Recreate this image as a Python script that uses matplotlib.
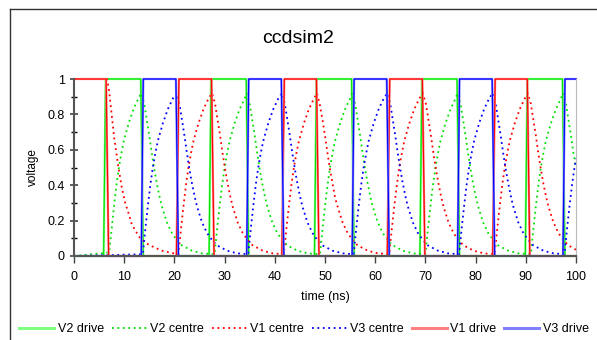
import matplotlib
matplotlib.use("Agg")
import matplotlib.pyplot as plt
from matplotlib.lines import Line2D

plt.rcParams['font.family'] = ['Liberation Sans', 'DejaVu Sans']

# drive clocks (trapezoids), time in ns
v1_drive_t = [0, 6.4, 6.9, 20.4, 20.9, 27.4, 27.9, 41.4, 41.9, 48.3, 48.8,
              62.4, 62.9, 69.4, 69.9, 83.4, 83.9, 90.3, 90.8, 100]
v1_drive_v = [1, 1, 0, 0, 1, 1, 0, 0, 1, 1, 0, 0, 1, 1, 0, 0, 1, 1, 0, 0]

v2_drive_t = [0, 5.9, 6.3, 13.3, 13.8, 26.9, 27.3, 34.3, 34.8, 47.9, 48.3,
              55.3, 55.8, 68.9, 69.3, 76.3, 76.8, 89.9, 90.3, 97.3, 97.8, 100]
v2_drive_v = [0, 0, 1, 1, 0, 0, 1, 1, 0, 0, 1, 1, 0, 0, 1, 1, 0, 0, 1, 1, 0, 0]

v3_drive_t = [0, 13.4, 13.8, 20.3, 20.8, 34.4, 34.8, 41.3, 41.8, 55.4, 55.8,
              62.3, 62.8, 76.4, 76.8, 83.3, 83.8, 97.4, 97.8, 100]
v3_drive_v = [0, 0, 1, 1, 0, 0, 1, 1, 0, 0, 1, 1, 0, 0, 1, 1, 0, 0, 1, 1]

# potential at the centre of each phase
v1_centre_t = [0, 6.6, 7.0, 7.5, 8.0, 8.8, 9.5, 10.2, 11.0, 11.5, 12.3, 13.2, 14.5, 15.9, 17.5, 19.0, 20.8,
               21.3, 21.8, 22.3, 22.8, 23.3, 23.8, 24.8, 25.8, 26.8, 27.5,
               28.1, 28.6, 29.1, 29.6, 30.1, 30.6, 31.1, 31.6, 32.6, 33.6, 34.6, 35.6, 37.6, 39.6, 41.8,
               42.3, 42.8, 43.3, 43.8, 44.3, 44.8, 45.8, 46.8, 47.8, 48.4,
               49.0, 49.5, 50.0, 50.5, 51.0, 51.5, 52.0, 52.5, 53.5, 54.5, 55.5, 56.5, 58.5, 60.5, 62.8,
               63.3, 63.8, 64.3, 64.8, 65.3, 65.8, 66.8, 67.8, 68.8, 69.5,
               70.1, 70.6, 71.1, 71.6, 72.1, 72.6, 73.1, 73.6, 74.6, 75.6, 76.6, 77.6, 79.6, 81.6, 83.8,
               84.3, 84.8, 85.3, 85.8, 86.3, 86.8, 87.8, 88.8, 89.8, 90.4,
               91.0, 91.5, 92.0, 92.5, 93.0, 93.5, 94.0, 94.5, 95.5, 96.5, 97.5, 98.5, 100]
v1_centre_v = [1.0, 1.0, 0.93, 0.80, 0.67, 0.51, 0.39, 0.30, 0.23, 0.18, 0.14, 0.10, 0.07, 0.05, 0.03, 0.02, 0.01,
               0.15, 0.28, 0.40, 0.50, 0.58, 0.65, 0.75, 0.83, 0.89, 0.92,
               0.86, 0.77, 0.68, 0.58, 0.49, 0.41, 0.34, 0.28, 0.19, 0.13, 0.09, 0.06, 0.03, 0.015, 0.01,
               0.15, 0.28, 0.40, 0.50, 0.58, 0.65, 0.75, 0.83, 0.89, 0.92,
               0.85, 0.77, 0.68, 0.58, 0.49, 0.41, 0.33, 0.28, 0.19, 0.13, 0.09, 0.06, 0.03, 0.015, 0.01,
               0.15, 0.28, 0.40, 0.50, 0.58, 0.65, 0.75, 0.83, 0.89, 0.92,
               0.86, 0.77, 0.68, 0.58, 0.49, 0.41, 0.34, 0.28, 0.19, 0.13, 0.09, 0.06, 0.03, 0.015, 0.01,
               0.15, 0.28, 0.40, 0.50, 0.58, 0.65, 0.75, 0.83, 0.89, 0.92,
               0.86, 0.77, 0.68, 0.58, 0.49, 0.41, 0.34, 0.28, 0.19, 0.13, 0.09, 0.06, 0.035]

v2_centre_t = [0, 7.0, 7.5, 8.0, 8.5, 9.0, 9.5, 10.0, 11.0, 12.0, 13.0, 13.4,
               14.0, 14.5, 15.0, 15.5, 16.0, 16.5, 17.0, 17.5, 18.5, 19.5, 20.5, 21.5, 23.5, 25.5, 28.0,
               28.5, 29.0, 29.5, 30.0, 30.5, 31.0, 32.0, 33.0, 34.0, 34.4,
               35.0, 35.5, 36.0, 36.5, 37.0, 37.5, 38.0, 38.5, 39.5, 40.5, 41.5, 42.5, 44.5, 46.5, 49.0,
               49.5, 50.0, 50.5, 51.0, 51.5, 52.0, 53.0, 54.0, 55.0, 55.4,
               56.0, 56.5, 57.0, 57.5, 58.0, 58.5, 59.0, 59.5, 60.5, 61.5, 62.5, 63.5, 65.5, 67.5, 70.0,
               70.5, 71.0, 71.5, 72.0, 72.5, 73.0, 74.0, 75.0, 76.0, 76.4,
               77.0, 77.5, 78.0, 78.5, 79.0, 79.5, 80.0, 80.5, 81.5, 82.5, 83.5, 84.5, 86.5, 88.5, 91.0,
               91.5, 92.0, 92.5, 93.0, 93.5, 94.0, 95.0, 96.0, 97.0, 97.4,
               98.0, 98.5, 99.0, 99.5, 100]
v2_centre_v = [0.0, 0.02, 0.15, 0.29, 0.41, 0.51, 0.59, 0.66, 0.76, 0.84, 0.90, 0.92,
               0.86, 0.77, 0.68, 0.58, 0.49, 0.41, 0.34, 0.28, 0.19, 0.13, 0.09, 0.06, 0.03, 0.015, 0.01,
               0.15, 0.28, 0.40, 0.50, 0.58, 0.65, 0.75, 0.83, 0.89, 0.92,
               0.86, 0.77, 0.68, 0.58, 0.49, 0.41, 0.34, 0.28, 0.19, 0.13, 0.09, 0.06, 0.03, 0.015, 0.01,
               0.15, 0.28, 0.40, 0.50, 0.58, 0.65, 0.75, 0.83, 0.89, 0.92,
               0.86, 0.77, 0.68, 0.58, 0.49, 0.41, 0.34, 0.28, 0.19, 0.13, 0.09, 0.06, 0.03, 0.015, 0.01,
               0.15, 0.28, 0.40, 0.50, 0.58, 0.65, 0.75, 0.83, 0.89, 0.92,
               0.86, 0.77, 0.68, 0.58, 0.49, 0.41, 0.34, 0.28, 0.19, 0.13, 0.09, 0.06, 0.03, 0.015, 0.01,
               0.15, 0.28, 0.40, 0.50, 0.58, 0.65, 0.75, 0.83, 0.89, 0.92,
               0.86, 0.77, 0.68, 0.58, 0.50]

v3_centre_t = [0, 13.7, 14.2, 14.7, 15.2, 15.7, 16.2, 16.7, 17.7, 18.7, 19.7, 20.4,
               21.0, 21.5, 22.0, 22.5, 23.0, 23.5, 24.0, 24.5, 25.5, 26.5, 27.5, 28.5, 30.5, 32.5, 34.7,
               35.2, 35.7, 36.2, 36.7, 37.2, 37.7, 38.7, 39.7, 40.7, 41.4,
               42.0, 42.5, 43.0, 43.5, 44.0, 44.5, 45.0, 45.5, 46.5, 47.5, 48.5, 49.5, 51.5, 53.5, 55.7,
               56.2, 56.7, 57.2, 57.7, 58.2, 58.7, 59.7, 60.7, 61.7, 62.4,
               63.0, 63.5, 64.0, 64.5, 65.0, 65.5, 66.0, 66.5, 67.5, 68.5, 69.5, 70.5, 72.5, 74.5, 76.7,
               77.2, 77.7, 78.2, 78.7, 79.2, 79.7, 80.7, 81.7, 82.7, 83.4,
               84.0, 84.5, 85.0, 85.5, 86.0, 86.5, 87.0, 87.5, 88.5, 89.5, 90.5, 91.5, 93.5, 95.5, 97.7,
               98.2, 98.7, 99.2, 99.7, 100]
v3_centre_v = [0.0, 0.01, 0.15, 0.28, 0.40, 0.50, 0.58, 0.65, 0.75, 0.83, 0.89, 0.92,
               0.86, 0.77, 0.68, 0.58, 0.49, 0.41, 0.34, 0.28, 0.19, 0.13, 0.09, 0.06, 0.03, 0.015, 0.01,
               0.15, 0.28, 0.40, 0.50, 0.58, 0.65, 0.75, 0.83, 0.89, 0.92,
               0.86, 0.77, 0.68, 0.58, 0.49, 0.41, 0.34, 0.28, 0.19, 0.13, 0.09, 0.06, 0.03, 0.015, 0.01,
               0.15, 0.28, 0.40, 0.50, 0.58, 0.65, 0.75, 0.83, 0.89, 0.92,
               0.86, 0.77, 0.68, 0.58, 0.49, 0.41, 0.34, 0.28, 0.19, 0.13, 0.09, 0.06, 0.03, 0.015, 0.01,
               0.15, 0.28, 0.40, 0.50, 0.58, 0.65, 0.75, 0.83, 0.89, 0.92,
               0.86, 0.77, 0.68, 0.58, 0.49, 0.41, 0.34, 0.28, 0.19, 0.13, 0.09, 0.06, 0.03, 0.015, 0.01,
               0.15, 0.28, 0.40, 0.50, 0.55]

fig = plt.figure(figsize=(5.97, 3.40), dpi=100)
ax = fig.add_axes([74/597, 84/340, 502/597, 177/340])

dot = (0, (1, 2))

def drive(t, v, light, dark, label):
    ax.plot(t, v, color=light, lw=1.6, label=label, clip_on=False)
    ax.plot(t, v, color=dark, lw=0.8, clip_on=False)

drive(v2_drive_t, v2_drive_v, '#80ff80', '#00e000', 'V2 drive')
ax.plot(v2_centre_t, v2_centre_v, color='#00e000', lw=1.3, ls=dot, label='V2 centre', clip_on=False)
ax.plot(v1_centre_t, v1_centre_v, color='#ff0000', lw=1.3, ls=dot, label='V1 centre', clip_on=False)
ax.plot(v3_centre_t, v3_centre_v, color='#0000ff', lw=1.3, ls=dot, label='V3 centre', clip_on=False)
drive(v1_drive_t, v1_drive_v, '#ff8080', '#ff0000', 'V1 drive')
drive(v3_drive_t, v3_drive_v, '#8080ff', '#0000ff', 'V3 drive')

ax.set_xlim(0, 100)
ax.set_ylim(0, 1)
ax.set_xticks(range(0, 101, 10))
ax.set_yticks([0, 0.2, 0.4, 0.6, 0.8, 1])
ax.set_yticklabels(['0', '0.2', '0.4', '0.6', '0.8', '1'])
ax.set_yticks([0.1, 0.3, 0.5, 0.7, 0.9], minor=True)
ax.tick_params(axis='both', labelsize=9, colors='#444444', labelcolor='black')
ax.tick_params(axis='y', which='major', direction='inout', length=6, width=1.2)
ax.tick_params(axis='y', which='minor', direction='inout', length=4, width=1.0)
ax.tick_params(axis='x', which='major', direction='out', length=5, width=1.0, pad=6)

for s in ['left', 'bottom']:
    ax.spines[s].set_color('#555555')
    ax.spines[s].set_linewidth(1.5)
ax.spines['right'].set_color('#bbbbbb')
ax.spines['top'].set_visible(False)

fig.text(0.5, 0.888, 'ccdsim2', ha='center', va='center', fontsize=14)
fig.text(325/597, 1 - 297/340, 'time (ns)', ha='center', va='center', fontsize=9)
fig.text(33/597, 1 - 167/340, 'voltage', ha='center', va='center', rotation=90, fontsize=8.5)

leg = fig.legend(loc='center', bbox_to_anchor=(304/597, 1 - 329/340), ncol=6, frameon=False,
                 fontsize=9, handlelength=2.8, handletextpad=0.3, columnspacing=0.6)
for h in leg.legend_handles:
    if h.get_linestyle() == '-':
        h.set_linewidth(2.2)

# outer frame
fig.add_artist(Line2D([10/597, 10/597], [0, 1 - 9/340], transform=fig.transFigure, color='#333333', lw=1))
fig.add_artist(Line2D([10/597, 1], [1 - 9/340, 1 - 9/340], transform=fig.transFigure, color='#333333', lw=1))

fig.savefig('out.png', dpi=100)
